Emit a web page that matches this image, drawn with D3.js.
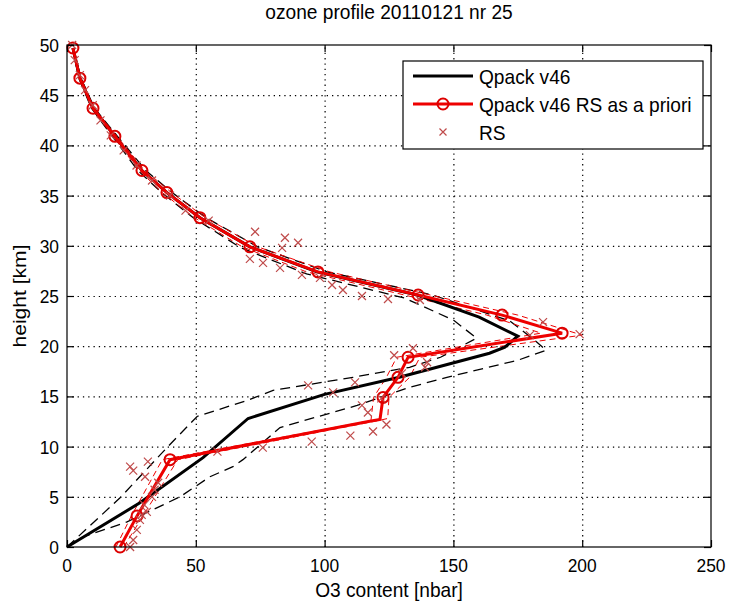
<!DOCTYPE html>
<html><head><meta charset="utf-8">
<script src="https://cdn.jsdelivr.net/npm/d3@7"></script>
<style>body{margin:0;background:#fff}svg{display:block}text{font-family:"Liberation Sans",Arial,sans-serif;fill:#000}</style>
</head><body><svg id="c" width="730" height="603"></svg>
<script>
// ---- data: [O3 content (nbar), height (km)] ----
const qpackV = [0,28.3,52.8,70.3,100,129,164,170,175,160,136,97,71,51.6,38.8,29.1,18.6,10.1,5,2.3];
const qpackH = [0,4.4,8.9,12.8,15.2,16.9,19.3,19.9,21.0,22.9,25.1,27.4,29.9,32.8,35.3,37.5,40.9,43.7,46.7,49.7];
const qpackLoV = [0,20.6,38.8,50.5,70,80,111,133,145,159,155,150,131,93,67.5,49,36.8,27.5,17.6,9.5,4.6,2.1];
const qpackLoH = [0,4.9,9.9,13,14.6,15.6,16.9,17.9,18.9,20.8,21.6,22.6,24.8,27.2,29.8,32.8,35.3,37.5,40.9,43.7,46.7,49.7];
const qpackHiV = [0,6.2,23.3,43.9,55.5,64.4,68.3,82.7,112.6,133,147.5,175,186,182,172,142,101,74,54,40.8,30.6,19.6,10.7,5.4,2.5];
const qpackHiH = [0,1,2.5,5,7,8,8.7,11.9,14.1,15.9,16.9,18.6,19.6,20.5,22.5,25.1,27.4,29.9,32.8,35.3,37.5,40.9,43.7,46.7,49.7];
const rsapV = [20.6,27.2,40,117,121.5,122.7,128.5,132.4,192.2,168.9,136.3,97.4,71,51.6,38.8,29.1,18.6,10.1,5,2.3];
const rsapH = [0,3.1,8.7,12.5,12.7,14.9,16.9,18.9,21.3,23.1,25.1,27.4,29.9,32.8,35.3,37.5,40.9,43.7,46.7,49.7];
const rsapMark = [1,1,1,0,0,1,1,1,1,1,1,1,1,1,1,1,1,1,1,1];
const rsapLoV = [19,25,37,114,118,119,124,128,184,163,131,93,68,49.5,37,28,17.8,9.6,4.7,2.1];
const rsapLoH = [0,3.1,8.7,12.4,12.6,14.9,16.9,18.9,21.3,23.1,25.1,27.4,29.9,32.8,35.3,37.5,40.9,43.7,46.7,49.7];
const rsapHiV = [22,29.5,43,121,124.5,125,133,137,200,175,141,102,74,53.7,40.6,30.2,19.4,10.6,5.3,2.5];
const rsapHiH = [0,3.1,8.7,12.6,12.8,14.9,16.9,18.9,21.1,23.1,25.1,27.4,29.9,32.8,35.3,37.5,40.9,43.7,46.7,49.7];
const rsV = [24.5,25.7,27.1,28.3,29,31,30,33,34,35.4,30.3,24.5,25.7,31.4,58.4,76,95,110,118.8,124,116.8,114.5,122,103.3,93.6,111.8,130,139,139.8,127,134.3,179.7,199,184.8,137,124.6,114.5,107.1,102.9,98.2,91.2,82.7,76.1,71,83.5,89.7,84.6,73,55,46,40,33,27,22,17,13,10,7,5,3,2];
const rsH = [0,0.7,1.7,2.7,3.2,3.5,4.2,5.0,5.7,6.4,7.0,8.0,7.6,8.5,9.5,9.9,10.5,11.1,11.5,12.2,13.4,14.1,14.8,15.4,16.1,16.4,17.3,17.9,18.4,19.1,19.8,21.1,21.2,22.4,24.6,24.7,25.0,25.6,26.1,26.8,27.1,27.8,28.3,28.7,29.8,30.3,30.8,31.4,32.5,33.5,35,36.5,38,39.5,41,42.5,44,45.5,47,48.5,50];
const xTicks = [0,50,100,150,200,250];
const yTicks = [0,5,10,15,20,25,30,35,40,45,50];
const title = "ozone profile 20110121 nr 25";
const xLabel = "O3 content [nbar]";
const yLabel = "height [km]";
const legendLabels = ["Qpack v46","Qpack v46 RS as a priori","RS"];

const svg = d3.select("#c");
const L=67,R=711,T=45,B=547;
const x = d3.scaleLinear().domain([0,250]).range([L,R]);
const y = d3.scaleLinear().domain([0,50]).range([B,T]);
const SX=1.304, SY=1.436;
function txt(px,py,s,size,anchor,rot){
  const g=svg.append("g").attr("transform",`translate(${px},${py}) scale(${SX},${SY})`+(rot?" rotate(-90)":""));
  g.append("text").attr("font-size",size).attr("text-anchor",anchor).text(s);
}
const zip=(a,b)=>a.map((v,i)=>[v,b[i]]);
const line=d3.line().x(d=>x(d[0])).y(d=>y(d[1]));

// grid
const gx=svg.append("g").attr("transform",`translate(0,${B})`)
  .call(d3.axisBottom(x).tickValues(xTicks.slice(1,-1)).tickSize(-(B-T)).tickFormat(""));
const gy=svg.append("g").attr("transform",`translate(${L},0)`)
  .call(d3.axisLeft(y).tickValues(yTicks.slice(1,-1)).tickSize(-(R-L)).tickFormat(""));
[gx,gy].forEach(g=>{g.select(".domain").remove();g.selectAll("line").attr("stroke","#000").attr("stroke-width",1.2).attr("stroke-dasharray","1.3,4");});

const plot=svg.append("g");
plot.append("path").datum(zip(qpackLoV,qpackLoH)).attr("d",line).attr("fill","none").attr("stroke","#000").attr("stroke-width",1.3).attr("stroke-dasharray","10,6");
plot.append("path").datum(zip(qpackHiV,qpackHiH)).attr("d",line).attr("fill","none").attr("stroke","#000").attr("stroke-width",1.3).attr("stroke-dasharray","10,6");
plot.append("path").datum(zip(rsapLoV,rsapLoH)).attr("d",line).attr("fill","none").attr("stroke","#e00").attr("stroke-width",1).attr("stroke-dasharray","6,4");
plot.append("path").datum(zip(rsapHiV,rsapHiH)).attr("d",line).attr("fill","none").attr("stroke","#e00").attr("stroke-width",1).attr("stroke-dasharray","6,4");
plot.append("path").datum(zip(qpackV,qpackH)).attr("d",line).attr("fill","none").attr("stroke","#000").attr("stroke-width",3);
plot.append("path").datum(zip(rsapV,rsapH)).attr("d",line).attr("fill","none").attr("stroke","#e00").attr("stroke-width",3);
plot.selectAll("circle.m").data(zip(rsapV,rsapH).filter((d,i)=>rsapMark[i])).join("circle")
  .attr("cx",d=>x(d[0])).attr("cy",d=>y(d[1])).attr("r",5.5).attr("fill","none").attr("stroke","#d00").attr("stroke-width",2);
const cross=(g,cx,cy,s)=>g.append("path").attr("d",`M${cx-s},${cy-s}L${cx+s},${cy+s}M${cx-s},${cy+s}L${cx+s},${cy-s}`).attr("stroke","#bf4a4a").attr("stroke-width",1.2).attr("fill","none");
zip(rsV,rsH).forEach(d=>cross(plot,x(d[0]),y(d[1]),4));

// axes box + ticks
svg.append("rect").attr("x",L).attr("y",T).attr("width",R-L).attr("height",B-T).attr("fill","none").attr("stroke","#000").attr("stroke-width",1.2);
const tk=7;
svg.append("g").attr("transform",`translate(0,${B})`).call(d3.axisBottom(x).tickValues(xTicks).tickSize(-tk).tickFormat("")).call(g=>g.select(".domain").remove());
svg.append("g").attr("transform",`translate(0,${T})`).call(d3.axisTop(x).tickValues(xTicks).tickSize(-tk).tickFormat("")).call(g=>g.select(".domain").remove());
svg.append("g").attr("transform",`translate(${L},0)`).call(d3.axisLeft(y).tickValues(yTicks).tickSize(-tk).tickFormat("")).call(g=>g.select(".domain").remove());
svg.append("g").attr("transform",`translate(${R},0)`).call(d3.axisRight(y).tickValues(yTicks).tickSize(-tk).tickFormat("")).call(g=>g.select(".domain").remove());
svg.selectAll(".tick line").filter(function(){return !this.getAttribute("stroke-dasharray");}).attr("stroke-width",1.2);

xTicks.forEach(v=>txt(x(v),572,String(v),13.33,"middle"));
yTicks.forEach(v=>txt(L-8,y(v)+6.9,String(v),13.33,"end"));
txt((L+R)/2,19,title,14.67,"middle");
txt((L+R)/2,597,xLabel,14.67,"middle");
txt(26,(T+B)/2,yLabel,14.67,"middle",true);

// legend
const lg=svg.append("g");
lg.append("rect").attr("x",403).attr("y",61).attr("width",300).attr("height",88).attr("fill","#fff").attr("stroke","#000").attr("stroke-width",1.2);
const rows=[76,104,132];
lg.append("line").attr("x1",413).attr("x2",473).attr("y1",rows[0]).attr("y2",rows[0]).attr("stroke","#000").attr("stroke-width",3);
lg.append("line").attr("x1",413).attr("x2",473).attr("y1",rows[1]).attr("y2",rows[1]).attr("stroke","#e00").attr("stroke-width",3);
lg.append("circle").attr("cx",443).attr("cy",rows[1]).attr("r",5.5).attr("fill","none").attr("stroke","#d00").attr("stroke-width",2);
cross(lg,443,rows[2],3.5);
legendLabels.forEach((s,i)=>txt(479,rows[i]+7.5,s,14.67,"start"));
</script></body></html>
